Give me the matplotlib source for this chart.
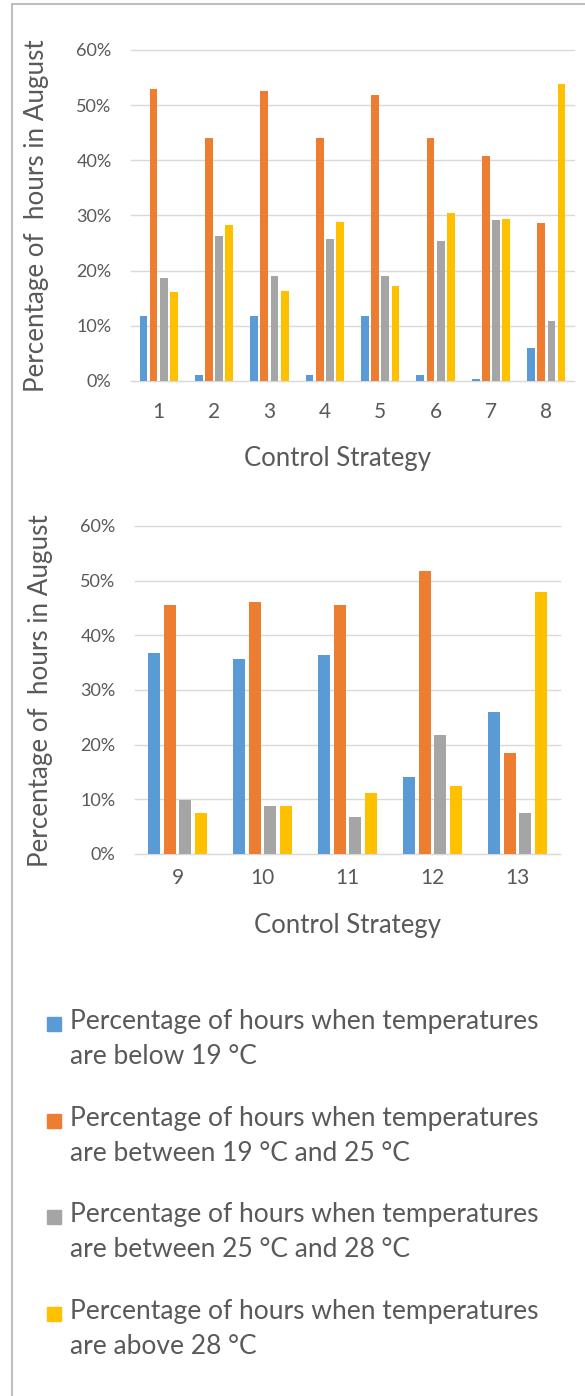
import matplotlib.pyplot as plt
import numpy as np
from matplotlib.patches import Rectangle
from matplotlib.ticker import PercentFormatter

plt.rcParams['font.family'] = ['Lato', 'DejaVu Sans']

# data (share of hours in August)
strategies_a = ["1", "2", "3", "4", "5", "6", "7", "8"]
below_19_a = [0.117, 0.010, 0.117, 0.010, 0.117, 0.010, 0.003, 0.059]
between_19_25_a = [0.529, 0.440, 0.526, 0.440, 0.518, 0.440, 0.408, 0.286]
between_25_28_a = [0.187, 0.263, 0.190, 0.258, 0.190, 0.253, 0.292, 0.109]
above_28_a = [0.161, 0.283, 0.164, 0.289, 0.172, 0.305, 0.294, 0.538]

strategies_b = ["9", "10", "11", "12", "13"]
below_19_b = [0.367, 0.356, 0.364, 0.140, 0.259]
between_19_25_b = [0.456, 0.461, 0.456, 0.517, 0.185]
between_25_28_b = [0.099, 0.088, 0.067, 0.217, 0.075]
above_28_b = [0.075, 0.088, 0.111, 0.125, 0.480]

labels = [
    "Percentage of hours when temperatures\nare below 19 °C",
    "Percentage of hours when temperatures\nare between 19 °C and 25 °C",
    "Percentage of hours when temperatures\nare between 25 °C and 28 °C",
    "Percentage of hours when temperatures\nare above 28 °C",
]
colors = ["#5B9BD5", "#ED7D31", "#A5A5A5", "#FFC000"]
text_col = "#595959"
grid_col = "#D9D9D9"

W, H = 585, 1396
fig = plt.figure(figsize=(W / 100, H / 100), dpi=100)


def fx(px):
    return px / W


def fy(py):
    return 1 - py / H


def draw_panel(rect, cats, series, xpad):
    ax = fig.add_axes(rect)
    x = np.arange(len(cats))
    pitch, width = 0.183, 0.14
    for k, vals in enumerate(series):
        ax.bar(x + (k - 1.5) * pitch, vals, width, color=colors[k], zorder=3)
    ax.set_xlim(-0.5, len(cats) - 0.5)
    ax.set_ylim(0, 0.6)
    ax.set_yticks(np.arange(0, 0.61, 0.1))
    ax.yaxis.set_major_formatter(PercentFormatter(1.0, decimals=0))
    ax.set_xticks(x)
    ax.set_xticklabels(cats)
    ax.grid(axis='y', color=grid_col, lw=1, zorder=0, clip_on=False)
    for s in ['top', 'left', 'right']:
        ax.spines[s].set_visible(False)
    ax.spines['bottom'].set_color(grid_col)
    ax.tick_params(axis='y', length=0, pad=14, labelsize=13, labelcolor=text_col)
    ax.tick_params(axis='x', length=0, pad=xpad, labelsize=15, labelcolor=text_col)
    return ax


ax1 = draw_panel([fx(131), fy(381), fx(574 - 131), (381 - 50) / H],
                 strategies_a,
                 [below_19_a, between_19_25_a, between_25_28_a, above_28_a], 15)
ax2 = draw_panel([fx(135), fy(854), fx(560 - 135), (854 - 526) / H],
                 strategies_b,
                 [below_19_b, between_19_25_b, between_25_28_b, above_28_b], 10)

# axis titles
ylab = "Percentage of  hours in August"
fig.text(fx(37), fy(216), ylab, rotation=90, ha='center', va='center',
         fontsize=18.7, color=text_col)
fig.text(fx(41), fy(691), ylab, rotation=90, ha='center', va='center',
         fontsize=18.7, color=text_col)
fig.text(fx(337), fy(459), "Control Strategy", ha='center', va='center',
         fontsize=18.5, color=text_col)
fig.text(fx(348), fy(926), "Control Strategy", ha='center', va='center',
         fontsize=18.5, color=text_col)

# legend below the charts
for i, (lab, c) in enumerate(zip(labels, colors)):
    y0 = 1017 + 96.7 * i
    fig.patches.append(Rectangle((fx(47), fy(y0 + 14)), fx(14), 14 / H,
                                 transform=fig.transFigure, color=c))
    fig.text(fx(70), fy(y0 - 8), lab, ha='left', va='top',
             fontsize=19, color=text_col, linespacing=1.5)

# chart area border (cropped on right and bottom)
fig.patches.append(Rectangle((fx(12), fy(1400)), fx(600), 1396 / H,
                             transform=fig.transFigure, fill=False,
                             edgecolor="#BFBFBF", lw=1.5))

fig.savefig("out.png", dpi=100)
